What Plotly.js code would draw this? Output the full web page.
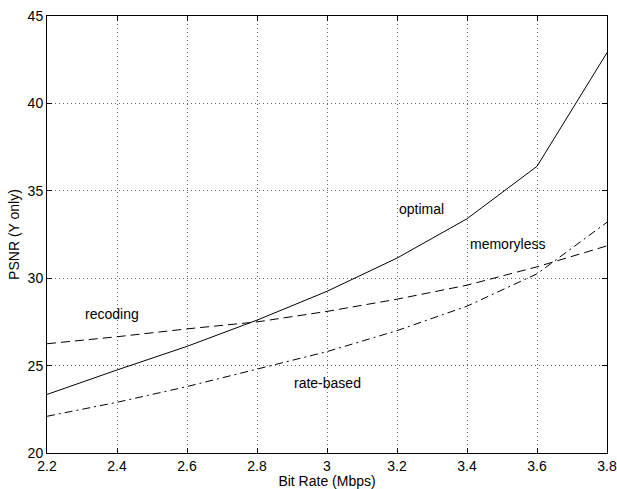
<!DOCTYPE html>
<html>
<head>
<meta charset="utf-8">
<script src="https://cdn.plot.ly/plotly-3.0.1.min.js"></script>
<style>html,body{margin:0;padding:0;background:#fff;}#chart{width:617px;height:489px;}</style>
</head>
<body>
<div id="chart"></div>
<script>
var bitRate = [2.2, 2.4, 2.6, 2.8, 3.0, 3.2, 3.4, 3.6, 3.8];
var optimal = [23.35, 24.75, 26.1, 27.6, 29.25, 31.15, 33.4, 36.4, 42.9];
var recoding = [26.25, 26.65, 27.1, 27.5, 28.1, 28.8, 29.6, 30.65, 31.85];
var rateBased = [22.1, 22.9, 23.8, 24.8, 25.8, 27.0, 28.4, 30.25, 33.2];

var xTickVals = [2.2, 2.4, 2.6, 2.8, 3.0, 3.2, 3.4, 3.6, 3.8];
var xTickText = ["2.2", "2.4", "2.6", "2.8", "3", "3.2", "3.4", "3.6", "3.8"];
var yTickVals = [20, 25, 30, 35, 40, 45];
var yTickText = ["20", "25", "30", "35", "40", "45"];

var labelText = ["optimal", "memoryless", "recoding", "rate-based"];
var labelX = [3.27, 3.515, 2.385, 3.0];
var labelY = [33.95, 31.95, 27.93, 24.0];

var font = {family: "Liberation Sans, Arial, Helvetica, sans-serif", size: 14, color: "#000"};

var traces = [
  {x: bitRate, y: optimal, mode: "lines", line: {color: "#000", width: 1, dash: "solid"}},
  {x: bitRate, y: recoding, mode: "lines", line: {color: "#000", width: 1, dash: "9px,5px"}},
  {x: bitRate, y: rateBased, mode: "lines", line: {color: "#000", width: 1, dash: "8px,4px,2px,4px"}}
];

var annotations = labelText.map(function (t, i) {
  return {x: labelX[i], y: labelY[i], xref: "x", yref: "y", text: t, showarrow: false, font: font};
});

var axisCommon = {
  showline: true, linecolor: "#000", linewidth: 1, mirror: "ticks",
  ticks: "inside", ticklen: 5, tickcolor: "#000", tickwidth: 1,
  showgrid: true, gridcolor: "#666", gridwidth: 1, griddash: "1px,3px",
  zeroline: false, tickfont: font
};

var layout = {
  width: 617, height: 489,
  margin: {l: 47, r: 10, t: 16, b: 36},
  paper_bgcolor: "#fff", plot_bgcolor: "#fff",
  showlegend: false,
  font: font,
  xaxis: Object.assign({}, axisCommon, {
    range: [2.2, 3.8], tickmode: "array", tickvals: xTickVals, ticktext: xTickText,
    title: {text: "Bit Rate (Mbps)", font: font, standoff: 4}
  }),
  yaxis: Object.assign({}, axisCommon, {
    range: [20, 45], tickmode: "array", tickvals: yTickVals, ticktext: yTickText,
    title: {text: "PSNR (Y only)", font: font, standoff: 4}
  }),
  annotations: annotations
};

Plotly.newPlot("chart", traces, layout, {displayModeBar: false, staticPlot: true});
</script>
</body>
</html>
